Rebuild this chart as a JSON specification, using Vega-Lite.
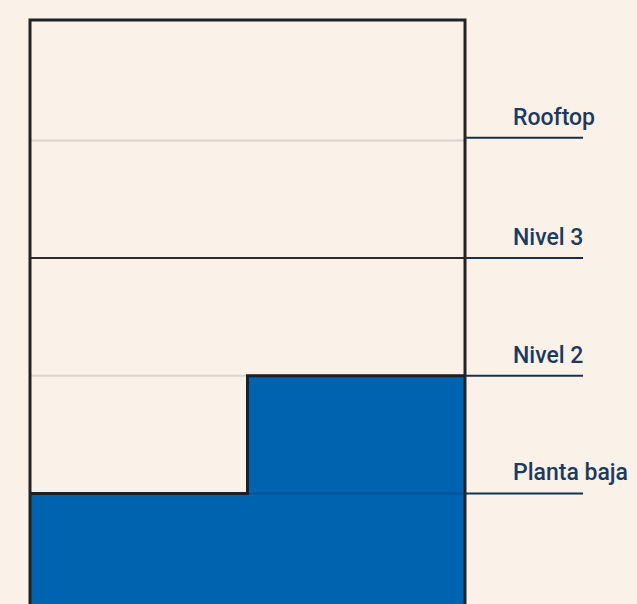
{
  "$schema": "https://vega.github.io/schema/vega-lite/v6.json",
  "width": 637,
  "height": 604,
  "autosize": "none",
  "padding": 0,
  "background": "#faf2e8",
  "config": {"view": {"stroke": null}},
  "datasets": {
    "blocks": [
      {"part": "A", "x0": 0, "x1": 100, "y0": -1.5, "y1": 0},
      {"part": "B", "x0": 50, "x1": 100, "y0": -0.05, "y1": 1}
    ],
    "step": [
      {"o": 0, "x": 0, "y": 0},
      {"o": 1, "x": 50, "y": 0},
      {"o": 2, "x": 50, "y": 1},
      {"o": 3, "x": 100, "y": 1}
    ],
    "dividers": [
      {"level": 1, "kind": "light"},
      {"level": 2, "kind": "dark"},
      {"level": 3, "kind": "light"}
    ],
    "seam": [{"level": 0}],
    "building": [{"x0": 0, "x1": 100, "y0": -1.5, "y1": 4.023}],
    "floors": [
      {"label": "Planta baja", "level": 0},
      {"label": "Nivel 2", "level": 1},
      {"label": "Nivel 3", "level": 2},
      {"label": "Rooftop", "level": 3.022}
    ]
  },
  "layer": [
    {
      "data": {"name": "dividers"},
      "mark": {"type": "rule", "strokeWidth": 2},
      "encoding": {
        "x": {"datum": 0, "type": "quantitative", "scale": {"domain": [-6.897, 139.54], "nice": false, "zero": false}, "axis": null},
        "x2": {"datum": 100},
        "y": {"field": "level", "type": "quantitative", "scale": {"domain": [-0.939, 4.193], "nice": false, "zero": false}, "axis": null},
        "color": {"field": "kind", "type": "nominal", "scale": {"domain": ["light", "dark"], "range": ["#d9d4cb", "#2b2b2b"]}, "legend": null}
      }
    },
    {
      "data": {"name": "blocks"},
      "mark": {"type": "rect", "fill": "#0063af"},
      "encoding": {
        "x": {"field": "x0", "type": "quantitative", "scale": {"domain": [-6.897, 139.54], "nice": false, "zero": false}, "axis": null},
        "x2": {"field": "x1"},
        "y": {"field": "y0", "type": "quantitative", "scale": {"domain": [-0.939, 4.193], "nice": false, "zero": false}, "axis": null},
        "y2": {"field": "y1"}
      }
    },
    {
      "data": {"name": "seam"},
      "mark": {"type": "rule", "stroke": "#0a5291", "strokeWidth": 2},
      "encoding": {
        "x": {"datum": 50, "type": "quantitative", "scale": {"domain": [-6.897, 139.54], "nice": false, "zero": false}, "axis": null},
        "x2": {"datum": 100},
        "y": {"field": "level", "type": "quantitative", "scale": {"domain": [-0.939, 4.193], "nice": false, "zero": false}, "axis": null}
      }
    },
    {
      "data": {"name": "step"},
      "mark": {"type": "line", "stroke": "#1b1f26", "strokeWidth": 3, "strokeJoin": "miter"},
      "encoding": {
        "x": {"field": "x", "type": "quantitative", "scale": {"domain": [-6.897, 139.54], "nice": false, "zero": false}, "axis": null},
        "y": {"field": "y", "type": "quantitative", "scale": {"domain": [-0.939, 4.193], "nice": false, "zero": false}, "axis": null},
        "order": {"field": "o", "type": "quantitative"}
      }
    },
    {
      "data": {"name": "building"},
      "mark": {"type": "rect", "fill": null, "fillOpacity": 0, "stroke": "#222222", "strokeWidth": 3},
      "encoding": {
        "x": {"field": "x0", "type": "quantitative", "scale": {"domain": [-6.897, 139.54], "nice": false, "zero": false}, "axis": null},
        "x2": {"field": "x1"},
        "y": {"field": "y0", "type": "quantitative", "scale": {"domain": [-0.939, 4.193], "nice": false, "zero": false}, "axis": null},
        "y2": {"field": "y1"}
      }
    },
    {
      "data": {"name": "floors"},
      "mark": {"type": "rule", "stroke": "#14304f", "strokeWidth": 2},
      "encoding": {
        "x": {"datum": 100, "type": "quantitative", "scale": {"domain": [-6.897, 139.54], "nice": false, "zero": false}, "axis": null},
        "x2": {"datum": 127.13},
        "y": {"field": "level", "type": "quantitative", "scale": {"domain": [-0.939, 4.193], "nice": false, "zero": false}, "axis": null}
      }
    },
    {
      "data": {"name": "floors"},
      "mark": {"type": "text", "align": "left", "baseline": "alphabetic", "dy": -13, "font": "Roboto", "fontWeight": 500, "fontSize": 23, "letterSpacing": -1, "fill": "#1d3a5c"},
      "encoding": {
        "x": {"datum": 111.03, "type": "quantitative", "scale": {"domain": [-6.897, 139.54], "nice": false, "zero": false}, "axis": null},
        "y": {"field": "level", "type": "quantitative", "scale": {"domain": [-0.939, 4.193], "nice": false, "zero": false}, "axis": null},
        "text": {"field": "label"}
      }
    }
  ]
}
